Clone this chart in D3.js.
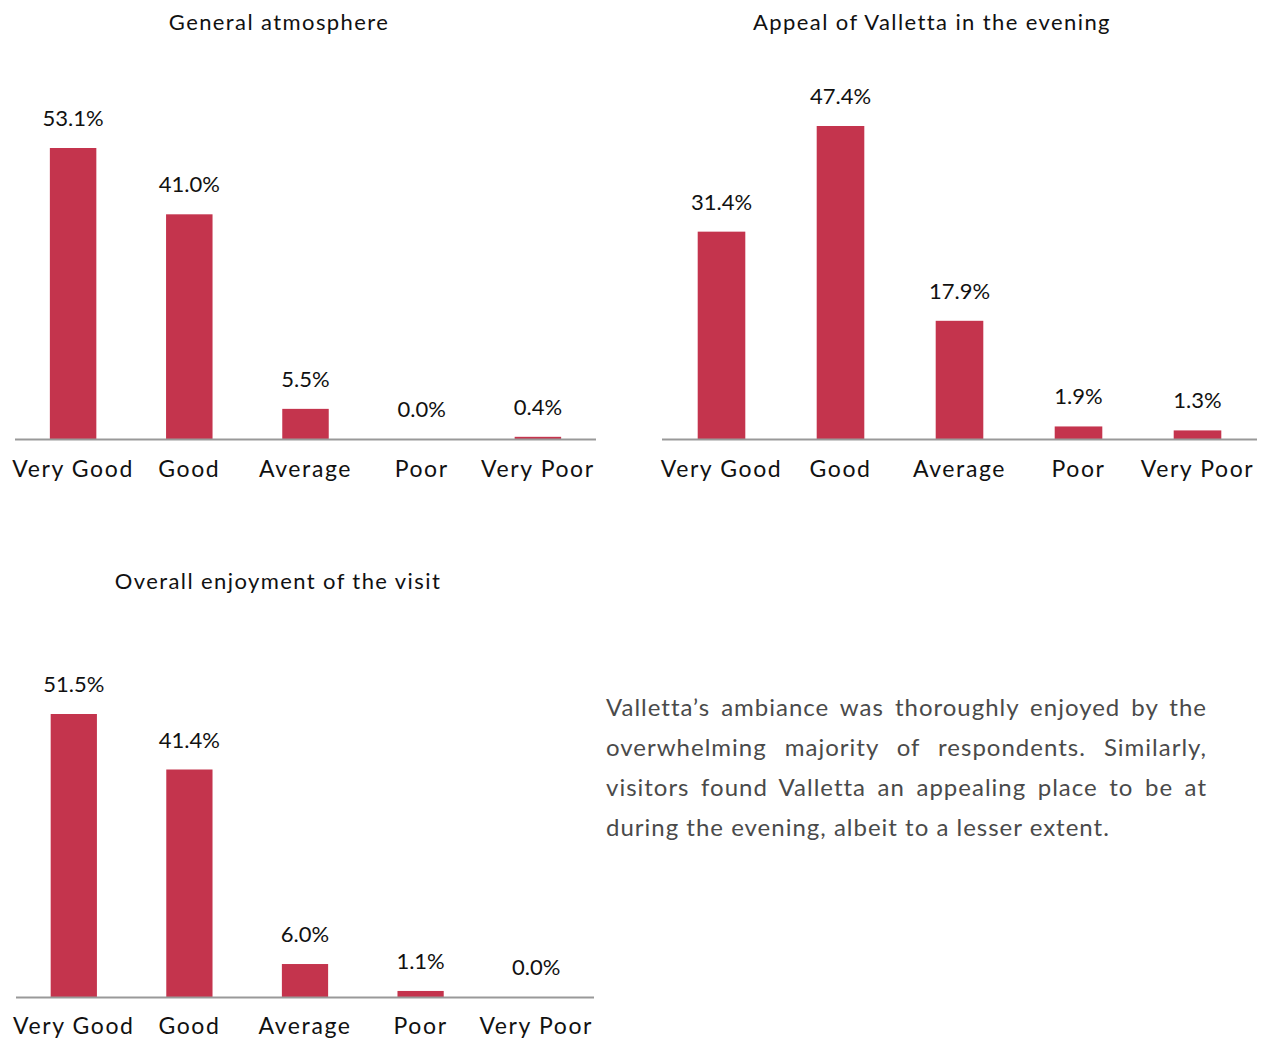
<!DOCTYPE html>
<html>
<head>
<meta charset="utf-8">
<script src="https://d3js.org/d3.v7.min.js"></script>
<style>
  body { margin: 0; background: #fff; }
  #wrap { position: relative; width: 1266px; height: 1041px; }
  .para { position: absolute; left: 606px; width: 601px; font-family: Lato, sans-serif; font-size: 24px; letter-spacing: 1px; color: #4a4a4a; text-align: justify; text-align-last: justify; white-space: nowrap; }
  .para.last { text-align-last: left; }
</style>
</head>
<body>
<div id="wrap">
<svg width="1266" height="1041"></svg>
</div>
<script>
  // data
  var categories = ["Very Good", "Good", "Average", "Poor", "Very Poor"];
  var atmosphere = [53.1, 41.0, 5.5, 0.0, 0.4];
  var eveningAppeal = [31.4, 47.4, 17.9, 1.9, 1.3];
  var enjoyment = [51.5, 41.4, 6.0, 1.1, 0.0];
  var titles = ["General atmosphere", "Appeal of Valletta in the evening", "Overall enjoyment of the visit"];
  var paragraph = [
    "Valletta\u2019s ambiance was thoroughly enjoyed by the",
    "overwhelming majority of respondents. Similarly,",
    "visitors found Valletta an appealing place to be at",
    "during the evening, albeit to a lesser extent."
  ];

  var svg = d3.select("svg");
  var red = "#c4344d";
  var font = "Lato, sans-serif";

  // layout for each panel
  var panels = [
    {values: atmosphere, title: titles[0], x0: 15, x1: 596, base: 439, top: 148, titleX: 279, titleY: 30, labelY: 477},
    {values: eveningAppeal, title: titles[1], x0: 662, x1: 1257, base: 439, top: 126, titleX: 932, titleY: 30, labelY: 477},
    {values: enjoyment, title: titles[2], x0: 16, x1: 594, base: 997, top: 714, titleX: 278, titleY: 589, labelY: 1034}
  ];

  panels.forEach(function(p) {
    var g = svg.append("g");
    var x = d3.scaleBand().domain(categories).range([p.x0, p.x1]).paddingInner(0.6).paddingOuter(0.3);
    var y = d3.scaleLinear().domain([0, d3.max(p.values)]).range([p.base, p.top]);
    var data = categories.map(function(c, i) { return {cat: c, v: p.values[i]}; });

    g.append("text")
      .attr("x", p.titleX)
      .attr("y", p.titleY)
      .attr("text-anchor", "middle")
      .attr("font-family", font)
      .attr("font-size", 22)
      .attr("letter-spacing", 1.4)
      .attr("fill", "#111")
      .text(p.title);

    g.selectAll("rect").data(data).enter().append("rect")
      .attr("x", function(d) { return x(d.cat); })
      .attr("width", x.bandwidth())
      .attr("y", function(d) { return y(d.v); })
      .attr("height", function(d) { return p.base - y(d.v); })
      .attr("fill", red);

    g.append("line")
      .attr("x1", p.x0).attr("x2", p.x1)
      .attr("y1", p.base + 0.5).attr("y2", p.base + 0.5)
      .attr("stroke", "#999").attr("stroke-width", 2);

    g.selectAll(".val").data(data).enter().append("text")
      .attr("class", "val")
      .attr("x", function(d) { return x(d.cat) + x.bandwidth() / 2; })
      .attr("y", function(d) { return y(d.v) - 22; })
      .attr("text-anchor", "middle")
      .attr("font-family", font)
      .attr("font-size", 22)
      .attr("fill", "#111")
      .text(function(d) { return d.v.toFixed(1) + "%"; });

    g.selectAll(".cat").data(data).enter().append("text")
      .attr("class", "cat")
      .attr("x", function(d) { return x(d.cat) + x.bandwidth() / 2; })
      .attr("y", p.labelY)
      .attr("text-anchor", "middle")
      .attr("font-family", font)
      .attr("font-size", 23)
      .attr("letter-spacing", 1.6)
      .attr("fill", "#111")
      .text(function(d) { return d.cat; });
  });

  // paragraph text
  d3.select("#wrap").selectAll(".para").data(paragraph).enter().append("div")
    .attr("class", function(d, i) { return i === paragraph.length - 1 ? "para last" : "para"; })
    .style("top", function(d, i) { return (692 + i * 40) + "px"; })
    .text(function(d) { return d; });
</script>
</body>
</html>
